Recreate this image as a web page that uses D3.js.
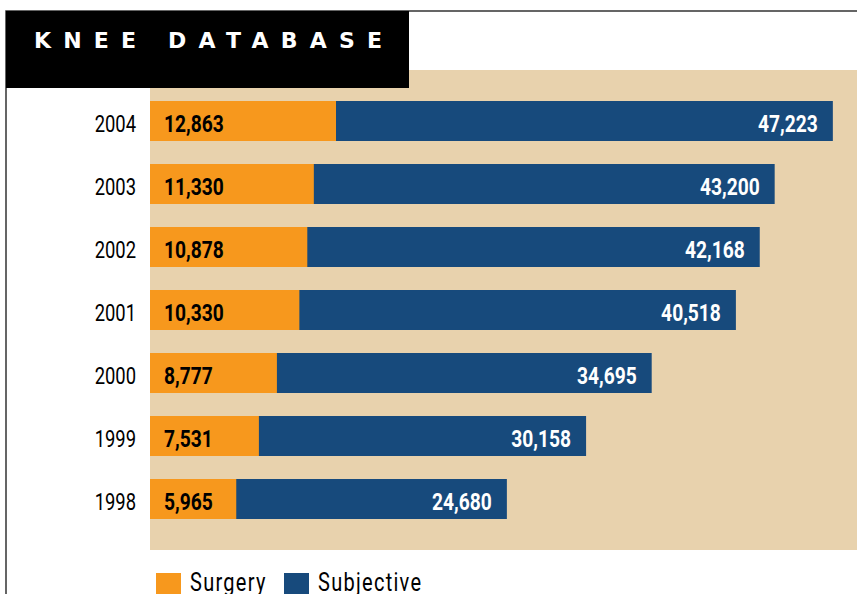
<!DOCTYPE html>
<html>
<head>
<meta charset="utf-8">
<script src="https://cdn.jsdelivr.net/npm/d3@7"></script>
<style>
  body { margin: 0; background: #fff; }
  svg { display: block; }
</style>
</head>
<body>
<div id="chart"></div>
<script>
let svgWidth = 857;
let svgHeight = 594;

// Data
let years = ["2004", "2003", "2002", "2001", "2000", "1999", "1998"];
let surgery = [12863, 11330, 10878, 10330, 8777, 7531, 5965];
let subjective = [47223, 43200, 42168, 40518, 34695, 30158, 24680];
let seriesNames = ["Surgery", "Subjective"];
let title = "KNEE DATABASE";

let colors = { surgery: "#f7981d", subjective: "#174a7c", panel: "#e8d2ad" };
let narrow = "Roboto, 'Liberation Sans', sans-serif";
let squeeze = 0.8; // no condensed face installed, so squash horizontally

let rows = years.map((y, i) => ({ year: y, surgery: surgery[i], subjective: subjective[i] }));

let svg = d3.select("#chart").append("svg").attr("width", svgWidth).attr("height", svgHeight);

// Scales
let x = d3.scaleLinear().domain([0, 50000]).range([150, 873]);
let y = d3.scaleBand().domain(years).range([101, 519]).paddingInner(23 / 63).paddingOuter(0);

// condensed-looking text placed at (tx, ty)
let narrowText = (sel, tx, ty) => sel
  .attr("transform", d => `translate(${typeof tx === "function" ? tx(d) : tx},${typeof ty === "function" ? ty(d) : ty}) scale(${squeeze},1)`)
  .attr("font-family", narrow);

// Frame + panel
svg.append("rect")
  .attr("x", 150).attr("y", 70)
  .attr("width", svgWidth - 150).attr("height", 480)
  .attr("fill", colors.panel);

svg.append("path")
  .attr("d", `M6,${svgHeight} V11 H${svgWidth}`)
  .attr("fill", "none")
  .attr("stroke", "#333")
  .attr("stroke-width", 1.5);

svg.append("rect")
  .attr("x", 6).attr("y", 11)
  .attr("width", 403).attr("height", 77)
  .attr("fill", "#000");

svg.append("text")
  .attr("x", 34).attr("y", 48)
  .attr("textLength", 348)
  .attr("lengthAdjust", "spacing")
  .attr("fill", "#fff")
  .attr("font-family", "'DejaVu Sans', sans-serif")
  .attr("font-weight", "bold")
  .attr("font-size", 22)
  .text(title);

// Bars: subjective behind, surgery on top
let rowGroups = svg.selectAll(".row")
  .data(rows)
  .enter()
  .append("g")
  .attr("class", "row");

rowGroups.append("rect")
  .attr("x", x(0))
  .attr("y", d => y(d.year))
  .attr("width", d => x(d.subjective) - x(0))
  .attr("height", y.bandwidth())
  .attr("fill", colors.subjective);

rowGroups.append("rect")
  .attr("x", x(0))
  .attr("y", d => y(d.year))
  .attr("width", d => x(d.surgery) - x(0))
  .attr("height", y.bandwidth())
  .attr("fill", colors.surgery);

let fmt = d3.format(",");

rowGroups.append("text")
  .call(narrowText, x(0) + 14, d => y(d.year) + 31)
  .attr("font-weight", "bold")
  .attr("font-size", 24)
  .attr("fill", "#000")
  .text(d => fmt(d.surgery));

rowGroups.append("text")
  .call(narrowText, d => x(d.subjective) - 15, d => y(d.year) + 31)
  .attr("text-anchor", "end")
  .attr("font-weight", "bold")
  .attr("font-size", 24)
  .attr("fill", "#fff")
  .text(d => fmt(d.subjective));

// Year labels
rowGroups.append("text")
  .call(narrowText, 136, d => y(d.year) + 31)
  .attr("text-anchor", "end")
  .attr("font-size", 23)
  .attr("fill", "#000")
  .text(d => d.year);

// Legend
let legend = svg.append("g").attr("transform", "translate(156, 573)");
let legendX = [0, 128];
let legendColors = [colors.surgery, colors.subjective];

seriesNames.forEach((name, i) => {
  legend.append("rect")
    .attr("x", legendX[i]).attr("y", 0)
    .attr("width", 25).attr("height", 25)
    .attr("fill", legendColors[i]);
  legend.append("text")
    .call(narrowText, legendX[i] + 34, 18)
    .attr("font-size", 25)
    .attr("letter-spacing", 1.6)
    .attr("fill", "#000")
    .text(name);
});
</script>
</body>
</html>
